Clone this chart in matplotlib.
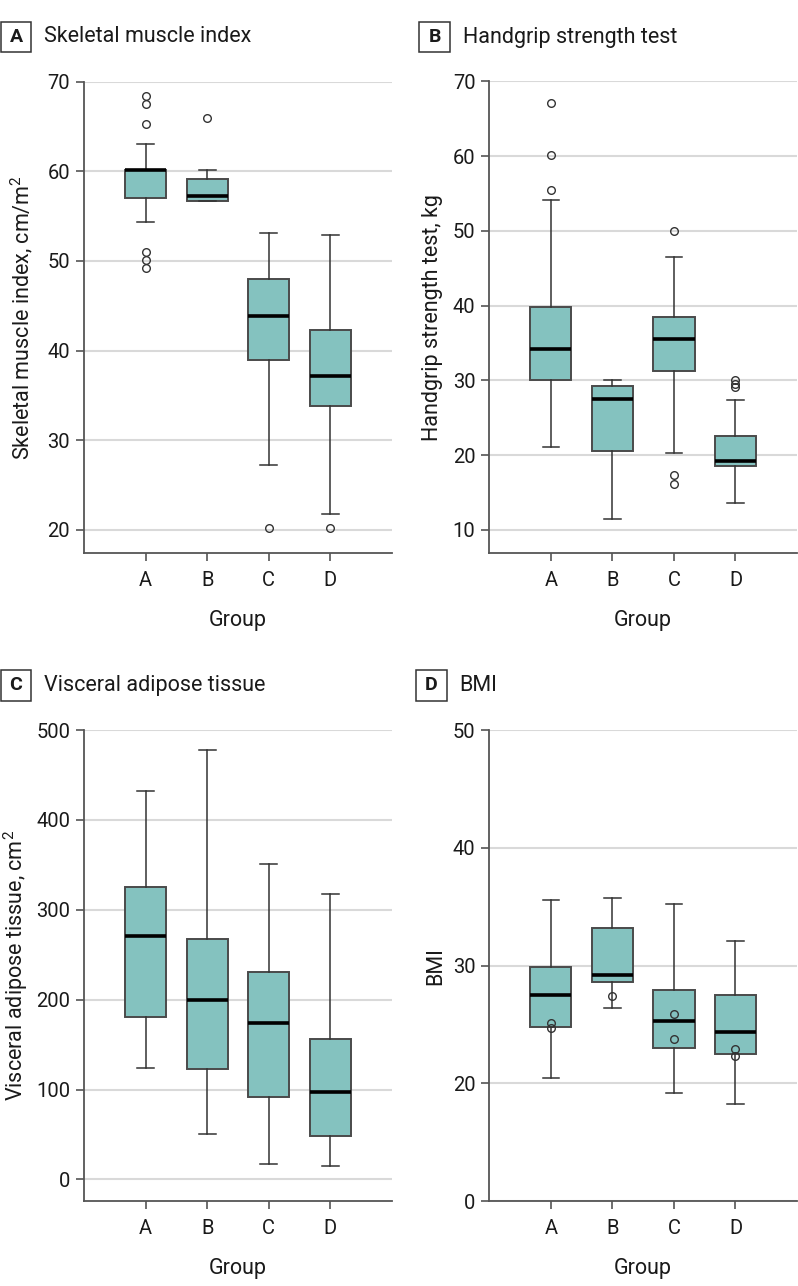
import matplotlib
matplotlib.use("Agg")
import matplotlib.pyplot as plt
from matplotlib.patches import Rectangle

plt.rcParams['font.family'] = ['Roboto', 'DejaVu Sans']
plt.rcParams['mathtext.fontset'] = 'custom'
plt.rcParams['mathtext.rm'] = 'Roboto'
plt.rcParams['mathtext.it'] = 'Roboto'
plt.rcParams['mathtext.bf'] = 'Roboto:bold'
plt.rcParams['mathtext.default'] = 'regular'

groups = ["A", "B", "C", "D"]

# Panel A: Skeletal muscle index (q1, med, q3, whislo, whishi, fliers)
smi_q1 = [57.0, 56.7, 38.9, 33.8]
smi_med = [60.1, 57.2, 43.9, 37.2]
smi_q3 = [60.2, 59.1, 48.0, 42.3]
smi_lo = [54.3, 56.7, 27.2, 21.8]
smi_hi = [63.0, 60.1, 53.1, 52.9]
smi_fl = [[68.4, 67.5, 65.3, 51.0, 50.1, 49.2], [65.9], [20.2], [20.2]]

# Panel B: Handgrip strength test
hg_q1 = [30.1, 20.6, 31.3, 18.6]
hg_med = [34.2, 27.5, 35.5, 19.2]
hg_q3 = [39.8, 29.2, 38.5, 22.5]
hg_lo = [21.1, 11.4, 20.3, 13.6]
hg_hi = [54.1, 30.0, 46.5, 27.4]
hg_fl = [[67.1, 60.1, 55.5], [], [50.0, 17.3, 16.1], [30.0, 29.5, 29.1]]

# Panel C: Visceral adipose tissue
vat_q1 = [181, 123, 92, 48]
vat_med = [271, 200, 174, 97]
vat_q3 = [325, 268, 231, 156]
vat_lo = [124, 50, 17, 15]
vat_hi = [432, 478, 351, 318]
vat_fl = [[], [], [], []]

# Panel D: BMI
bmi_q1 = [24.8, 28.6, 23.0, 22.5]
bmi_med = [27.5, 29.2, 25.3, 24.4]
bmi_q3 = [29.9, 33.2, 27.9, 27.5]
bmi_lo = [20.5, 26.4, 19.2, 18.3]
bmi_hi = [35.6, 35.7, 35.2, 32.1]
bmi_fl = [[25.1, 24.7], [27.4], [25.9, 23.8], [22.9, 22.3]]

BOX = "#84c2bf"
EDGE = "#4a4a4a"
GRID = "#d9d9d9"
TXT = "#1a1a1a"

W, H = 798, 1286
fig = plt.figure(figsize=(W / 100, H / 100), dpi=100)


def frac_rect(l, t, r, b):
    return [l / W, 1 - b / H, (r - l) / W, (b - t) / H]


def make_stats(q1, med, q3, lo, hi, fl):
    return [dict(q1=a, med=m, q3=c, whislo=w1, whishi=w2, fliers=f, label=g)
            for a, m, c, w1, w2, f, g in zip(q1, med, q3, lo, hi, fl, groups)]


def panel(rect, stats, ylim, yticks, yticklabels, ylabel, ylabx, letter, title, letter_box, title_x):
    ax = fig.add_axes(frac_rect(*rect))
    ax.set_axisbelow(True)
    for t in yticks:
        ax.axhline(t, color=GRID, lw=1.5, zorder=0)
    ax.bxp(stats, positions=[1, 2, 3, 4], widths=0.67, patch_artist=True,
           boxprops=dict(facecolor=BOX, edgecolor=EDGE, linewidth=1.4),
           medianprops=dict(color="black", linewidth=2.6),
           whiskerprops=dict(color="#333333", linewidth=1.1),
           capprops=dict(color="#333333", linewidth=1.1),
           capwidths=0.27,
           flierprops=dict(marker="o", markersize=5.5, markerfacecolor="none",
                           markeredgecolor="#333333", markeredgewidth=1.0))
    ax.set_xlim(0, 5)
    ax.set_ylim(*ylim)
    ax.set_yticks(yticks)
    ax.set_yticklabels(yticklabels)
    ax.set_xticks([1, 2, 3, 4])
    ax.set_xticklabels(groups)
    for s in ["top", "right"]:
        ax.spines[s].set_visible(False)
    for s in ["left", "bottom"]:
        ax.spines[s].set_color("#555555")
        ax.spines[s].set_linewidth(1.3)
    ax.spines["left"].set_bounds(ylim[0], yticks[-1])
    ax.tick_params(axis="both", direction="out", length=6, width=1.2, color="#555555",
                   labelsize=14.5, labelcolor=TXT, pad=4)
    ax.tick_params(axis="x", pad=7)
    ax.set_xlabel("Group", fontsize=15.5, color=TXT)
    ax.xaxis.set_label_coords(0.5, -0.121)
    ax.set_ylabel(ylabel, fontsize=15.5, color=TXT)
    ax.yaxis.set_label_coords(ylabx, 0.5)
    # panel letter box
    l, t, r, b = letter_box
    fig.patches.append(Rectangle((l / W, 1 - b / H), (r - l) / W, (b - t) / H,
                                 transform=fig.transFigure, fill=False,
                                 edgecolor="#333333", linewidth=1.1))
    fig.text((l + r) / 2 / W, 1 - (t + b) / 2 / H, letter, ha="center", va="center",
             fontsize=14, fontweight="bold", color=TXT)
    fig.text(title_x / W, 1 - (t + b) / 2 / H, title, ha="left", va="center",
             fontsize=15.5, color=TXT)
    return ax


panel((84, 81.7, 392, 553), make_stats(smi_q1, smi_med, smi_q3, smi_lo, smi_hi, smi_fl),
      (17.4, 70), [20, 30, 40, 50, 60, 70], ["20", "30", "40", "50", "60", "70"],
      "Skeletal muscle index, cm/m$^2$", -0.16, "A", "Skeletal muscle index",
      (1, 22, 31, 52), 44)

panel((489.3, 81.3, 797, 553), make_stats(hg_q1, hg_med, hg_q3, hg_lo, hg_hi, hg_fl),
      (6.9, 70), [10, 20, 30, 40, 50, 60, 70], ["10", "20", "30", "40", "50", "60", "70"],
      "Handgrip strength test, kg", -0.15, "B", "Handgrip strength test",
      (419.3, 22, 450, 52), 463)

panel((84, 730, 392, 1201), make_stats(vat_q1, vat_med, vat_q3, vat_lo, vat_hi, vat_fl),
      (-24, 500), [0, 100, 200, 300, 400, 500], ["0", "100", "200", "300", "400", "500"],
      "Visceral adipose tissue, cm$^2$", -0.175, "C", "Visceral adipose tissue",
      (1, 670, 31, 701), 44)

# BMI axis is broken: the "0" tick sits where 10 would be
panel((489.3, 730, 797, 1201.3), make_stats(bmi_q1, bmi_med, bmi_q3, bmi_lo, bmi_hi, bmi_fl),
      (10, 50), [10, 20, 30, 40, 50], ["0", "20", "30", "40", "50"],
      "BMI", -0.14, "D", "BMI",
      (415.7, 670, 446.7, 701), 459)

fig.savefig("out.png", dpi=100)
